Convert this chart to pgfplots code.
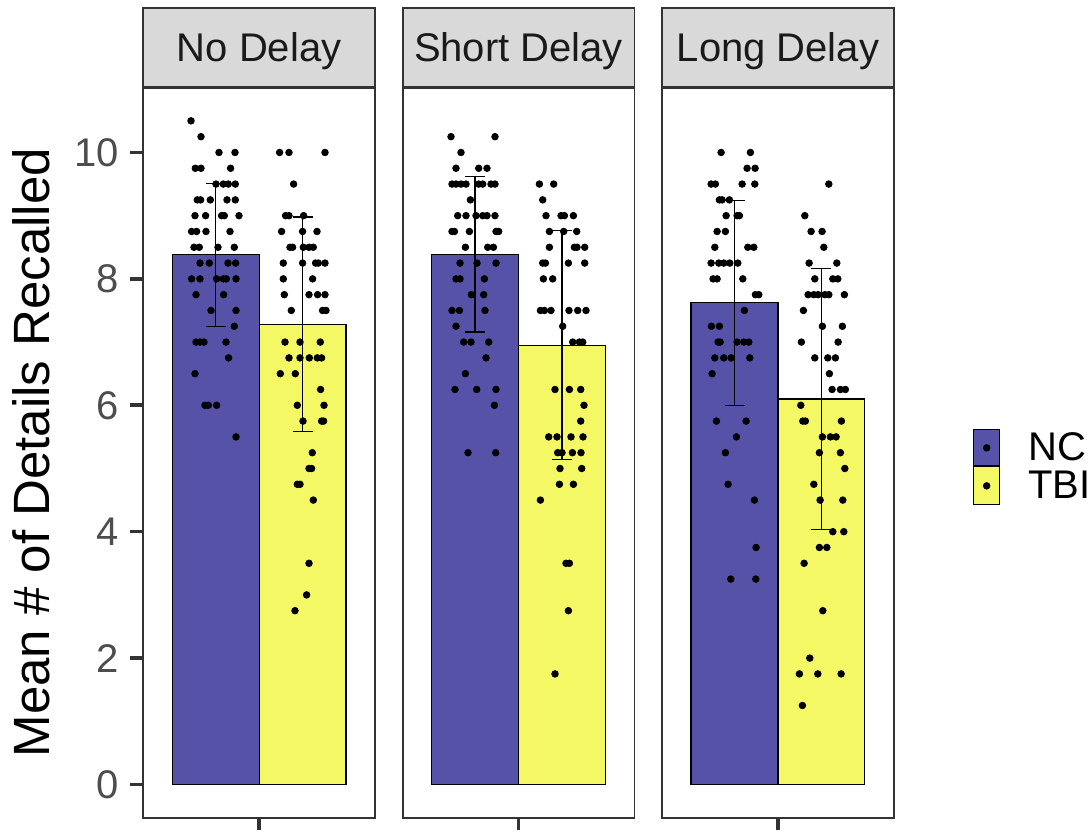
\documentclass[border=0pt]{standalone}
\usepackage{fontspec}
\setmainfont{Liberation Sans}
\usepackage{pgfplots}
\usepackage{pgfplotstable}
\pgfplotsset{compat=1.18}

\definecolor{ncfill}{RGB}{85,82,168}
\definecolor{tbifill}{RGB}{244,248,100}
\definecolor{stripgray}{RGB}{217,217,217}
\definecolor{framegray}{RGB}{51,51,51}
\definecolor{ticktext}{RGB}{77,77,77}
\definecolor{striptext}{RGB}{26,26,26}

% Individual scores: jitter position (0--231.7 across a facet) and details recalled
\pgfplotstableread{
pos val
47.7 10.5
57.7 10.25
75.7 10
91.7 10
52.0 9.75
57.7 9.75
87.3 9.75
72.7 9.5
80.0 9.5
85.0 9.5
92.0 9.5
54.0 9.25
57.3 9.25
67.0 9.25
83.7 9.25
92.0 9.25
51.7 9
62.3 9
78.3 9
81.0 9
95.7 9
48.3 8.75
53.3 8.75
62.7 8.75
86.7 8.75
50.7 8.5
56.0 8.5
74.7 8.5
91.0 8.5
56.7 8.25
66.0 8.25
84.7 8.25
92.3 8.25
48.3 8
56.7 8
73.3 8
80.0 8
83.0 8
92.7 8
52.7 7.75
80.3 7.75
67.7 7.5
92.7 7.5
91.0 7.25
52.7 7
56.7 7
60.7 7
82.7 7
85.3 6.75
51.7 6.5
61.7 6
65.0 6
73.3 6
92.7 5.5
}\noNC

\pgfplotstableread{
pos val
136.3 10
145.7 10
181.7 10
150.3 9.5
142.3 9
145.7 9
160.3 9
138.3 8.75
159.3 8.75
173.7 8.75
146.7 8.5
149.3 8.5
160.0 8.5
165.7 8.5
170.0 8.5
140.0 8.25
159.3 8.25
172.3 8.25
175.0 8.25
181.7 8.25
140.0 8
169.3 8
141.0 7.75
165.7 7.75
174.3 7.75
181.7 7.75
148.0 7.5
179.3 7.5
182.7 7.5
141.7 7
156.7 7
177.0 7
145.7 6.75
156.7 6.75
166.0 6.75
174.0 6.75
178.3 6.75
137.0 6.5
152.0 6.5
177.3 6.25
154.0 6
180.7 6
159.7 5.75
178.3 5.75
180.3 5.75
169.0 5.25
165.7 5
168.3 5
154.0 4.75
156.7 4.75
170.0 4.5
165.7 3.5
163.3 3
151.7 2.75
}\noTBI

\pgfplotstableread{
pos val
48.3 10.25
92.3 10.25
58.3 10
53.3 9.75
76.0 9.75
84.3 9.75
49.3 9.5
53.3 9.5
58.3 9.5
63.3 9.5
76.0 9.5
80.0 9.5
88.3 9.5
92.3 9.5
67.7 9.25
55.0 9
63.3 9
73.3 9
80.0 9
84.3 9
92.3 9
49.3 8.75
51.7 8.75
66.7 8.75
93.3 8.75
96.0 8.75
62.7 8.5
85.0 8.5
90.7 8.5
57.3 8.25
74.3 8.25
93.3 8.25
53.3 8
57.3 8
81.7 8
68.7 7.75
81.0 7.75
49.3 7.5
56.7 7.5
82.3 7.5
53.3 7.25
61.0 7
68.3 7
86.0 7
83.3 6.75
62.7 6.5
52.3 6.25
74.0 6.25
93.3 6.25
91.7 6
65.3 5.25
93.0 5.25
}\shortNC

\pgfplotstableread{
pos val
136.7 9.5
151.0 9.5
140.0 9.25
143.3 9
158.3 9
161.7 9
170.7 9
146.7 8.75
161.0 8.75
174.0 8.75
146.7 8.5
171.7 8.5
174.3 8.5
182.0 8.5
140.0 8.25
142.7 8.25
165.7 8.25
182.0 8.25
140.7 8
150.0 8
137.7 7.5
141.7 7.5
148.3 7.5
166.3 7.5
175.0 7.5
183.3 7.5
160.0 7.25
170.0 7
176.7 7
180.0 7
152.3 6.25
166.7 6.25
178.0 6.25
181.3 6
178.0 5.75
146.0 5.5
154.3 5.5
168.3 5.5
180.3 5.5
155.0 5.25
159.3 5.25
169.7 5.25
178.3 5.25
157.3 5
179.0 5
156.7 4.75
170.7 4.75
137.7 4.5
163.3 3.5
166.7 3.5
165.7 2.75
152.3 1.75
}\shortTBI

\pgfplotstableread{
pos val
59.0 10
88.3 10
85.0 9.75
93.0 9.75
49.0 9.5
53.3 9.5
80.0 9.5
92.7 9.5
57.3 9.25
60.0 9.25
67.3 9.25
64.0 9
75.0 9
77.3 9
55.0 8.75
63.3 8.75
52.7 8.5
85.7 8.5
91.7 8.5
49.0 8.25
56.7 8.25
61.7 8.25
67.7 8.25
75.7 8.25
51.0 8
55.0 8
80.7 8
93.3 7.75
96.7 7.75
82.3 7.5
49.3 7.25
57.3 7.25
56.0 7
58.0 7
75.0 7
81.7 7
86.7 7
52.7 6.75
61.7 6.75
69.0 6.75
87.7 6.75
50.0 6.5
54.3 5.75
84.0 5.75
74.3 5.5
63.3 5.25
66.0 4.75
92.3 4.5
94.0 3.75
68.7 3.25
93.7 3.25
}\longNC

\pgfplotstableread{
pos val
166.7 9.5
142.7 9
149.0 8.75
160.0 8.75
161.7 8.5
147.0 8.25
174.7 8.25
152.7 8
170.7 8
175.7 8
146.0 7.75
151.7 7.75
156.0 7.75
162.7 7.75
166.7 7.75
182.3 7.75
141.3 7.5
160.3 7.25
180.3 7.25
139.3 7
176.0 7
152.7 6.75
165.7 6.75
173.3 6.75
167.3 6.5
170.0 6.25
178.3 6.25
183.3 6.25
138.7 6
140.7 5.75
143.3 5.75
179.3 5.75
160.3 5.5
168.3 5.5
174.0 5.5
157.3 5.25
178.3 5.25
182.7 5
151.7 4.75
158.0 4.5
180.7 4.5
170.7 4
181.7 4
157.3 3.75
164.7 3.75
142.0 3.5
160.7 2.75
147.7 2
137.3 1.75
155.7 1.75
179.0 1.75
140.3 1.25
}\longTBI

\pgfplotsset{
  facet/.style={
    scale only axis, width=115.85pt, height=365pt,
    anchor=south west,
    xmin=0, xmax=231.7, ymin=-0.525, ymax=11.025,
    axis line style={draw=framegray, line width=0.85pt},
    tick pos=left, tick align=outside,
    major tick length=6.4pt,
    tick style={draw=framegray, line width=1.8pt},
    xtick={115.85}, xticklabels={},
    ytick={0,2,4,6,8,10},
    yticklabels={0,2,4,6,8,10},
    yticklabel style={font=\fontsize{20}{20}\selectfont, text=ticktext, inner xsep=5.8pt},
    every axis title shift=0pt,
    title style={at={(axis description cs:0.5,1)}, anchor=south, yshift=0pt,
      draw=framegray, fill=stripgray, line width=0.85pt,
      minimum width=115.85pt, minimum height=39.35pt, inner sep=0pt,
      text height=14.3pt, text depth=0pt, text=striptext,
      font=\fontsize{20}{20}\selectfont},
    clip=false,
  },
  meanbar/.style={ybar, bar width=86.9, bar shift=0pt, draw=black, line width=0.6pt},
  sdbar/.style={draw=none, mark=none,
    error bars/.cd, y dir=both, y explicit,
    error bar style={draw=black, line width=0.65pt},
    error mark options={rotate=90, draw=black, mark size=5pt, line width=0.65pt}},
  pts/.style={only marks, mark=*, mark size=1.65pt, black},
}

\begin{document}
\begin{tikzpicture}
\path[use as bounding box] (0,0) rectangle (545.5pt,416.5pt);

% No Delay
\begin{axis}[facet, at={(71.65pt,7.65pt)}, title={No Delay},
  ylabel={Mean \# of Details Recalled},
  ylabel style={at={(axis description cs:-0.4027,0.5)}, anchor=base,
    font=\fontsize{25.5}{25.5}\selectfont, text=black}]
  \addplot[meanbar, fill=ncfill] coordinates {(72.4,8.38)};
  \addplot[meanbar, fill=tbifill] coordinates {(159.3,7.28)};
  \addplot[pts] table[x=pos, y=val] {\noNC};
  \addplot[pts] table[x=pos, y=val] {\noTBI};
  \addplot[sdbar] coordinates {(72.4,8.38) +- (0,1.13)};
  \addplot[sdbar] coordinates {(159.3,7.28) +- (0,1.70)};
\end{axis}

% Short Delay
\begin{axis}[facet, at={(201.35pt,7.65pt)}, title={Short Delay}, ytick=\empty]
  \addplot[meanbar, fill=ncfill] coordinates {(72.4,8.39)};
  \addplot[meanbar, fill=tbifill] coordinates {(159.3,6.95)};
  \addplot[pts] table[x=pos, y=val] {\shortNC};
  \addplot[pts] table[x=pos, y=val] {\shortTBI};
  \addplot[sdbar] coordinates {(72.4,8.39) +- (0,1.23)};
  \addplot[sdbar] coordinates {(159.3,6.95) +- (0,1.81)};
\end{axis}

% Long Delay, with the group legend
\begin{axis}[facet, at={(331.05pt,7.65pt)}, title={Long Delay}, ytick=\empty,
  legend style={at={(1.339,0.5325)}, anchor=north west, draw=none, fill=none,
    inner sep=0pt, row sep=0pt, font=\fontsize{20}{20}\selectfont,
    cells={anchor=west}, nodes={inner sep=0pt}}]
  \addlegendimage{legend image code/.code={
    \path[draw=none, fill=none] (0pt,-9pt) rectangle (27.5pt,9pt);
    \draw[fill=ncfill, draw=black, line width=0.5pt] (0pt,-9pt) rectangle (13.35pt,9pt);
    \fill[black] (6.7pt,0pt) circle (1.65pt);}}
  \addlegendentry{NC}
  \addlegendimage{legend image code/.code={
    \path[draw=none, fill=none] (0pt,-9.5pt) rectangle (27.5pt,9.5pt);
    \draw[fill=tbifill, draw=black, line width=0.5pt] (0pt,-9.5pt) rectangle (13.35pt,9.5pt);
    \fill[black] (6.7pt,0pt) circle (1.65pt);}}
  \addlegendentry{TBI}
  \addplot[meanbar, fill=ncfill] coordinates {(72.4,7.62)};
  \addplot[meanbar, fill=tbifill] coordinates {(159.3,6.10)};
  \addplot[pts] table[x=pos, y=val] {\longNC};
  \addplot[pts] table[x=pos, y=val] {\longTBI};
  \addplot[sdbar] coordinates {(72.4,7.62) +- (0,1.62)};
  \addplot[sdbar] coordinates {(159.3,6.10) +- (0,2.06)};
\end{axis}
\end{tikzpicture}
\end{document}
